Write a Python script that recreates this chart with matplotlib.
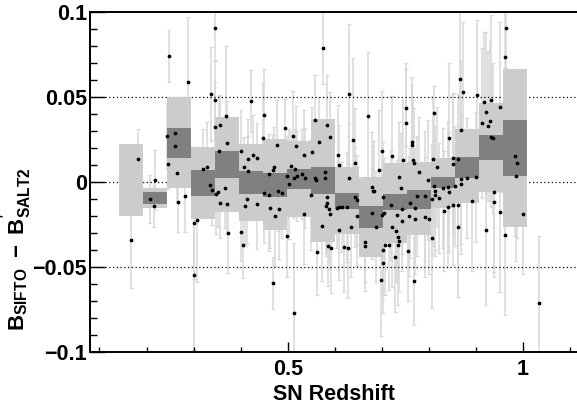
import matplotlib
matplotlib.use("Agg")
import matplotlib.pyplot as plt
from matplotlib.ticker import FixedLocator, MultipleLocator

plt.rcParams['font.family'] = ['Liberation Sans', 'DejaVu Sans']
plt.rcParams['font.weight'] = 'bold'
plt.rcParams['mathtext.fontset'] = 'custom'
plt.rcParams['mathtext.rm'] = 'Liberation Sans:bold'
plt.rcParams['mathtext.it'] = 'Liberation Sans:bold'
plt.rcParams['mathtext.bf'] = 'Liberation Sans:bold'

# --- per-supernova differences -------------------------------------------
redshift = [
    0.166, 0.182, 0.208, 0.217, 0.2165, 0.2435, 0.245, 0.2478, 0.2605, 0.2605,
    0.2658, 0.2675, 0.2824, 0.2888, 0.3003, 0.3003, 0.3079, 0.3207, 0.3292, 0.3355,
    0.3364, 0.3385, 0.3462, 0.3449, 0.3462, 0.3477, 0.3525, 0.3555, 0.3534, 0.3555,
    0.3674, 0.3689, 0.3704, 0.3710, 0.3732, 0.4008, 0.4018, 0.4050, 0.4065, 0.4099,
    0.4135, 0.4167, 0.4157, 0.4227, 0.4256, 0.4348, 0.4358, 0.4475, 0.4490, 0.4497,
    0.4597, 0.4597, 0.4618, 0.4694, 0.4694, 0.4709, 0.4730, 0.4779, 0.4794, 0.4811,
    0.4885, 0.4949, 0.4979, 0.4979, 0.5032, 0.5077, 0.5119, 0.5128, 0.5140, 0.5155,
    0.5183, 0.5204, 0.5310, 0.5336, 0.5353, 0.5368, 0.5495, 0.5506, 0.5587, 0.5587,
    0.5591, 0.5633, 0.5655, 0.5733, 0.5750, 0.5793, 0.5797, 0.5814, 0.5829, 0.5842,
    0.5842, 0.5846, 0.5888, 0.5899, 0.5905, 0.5920, 0.6041, 0.6073, 0.6084, 0.6097,
    0.6097, 0.6160, 0.6201, 0.6256, 0.6275, 0.6296, 0.6309, 0.6339, 0.6394, 0.6430,
    0.6424, 0.6473, 0.6477, 0.6639, 0.6639, 0.6702, 0.6798, 0.6819, 0.6841, 0.6798,
    0.6870, 0.6951, 0.6983, 0.7000, 0.7015, 0.7030, 0.7025, 0.7004, 0.7040, 0.7074,
    0.7159, 0.7189, 0.7210, 0.7223, 0.7274, 0.7295, 0.7329, 0.7338, 0.7351, 0.7365,
    0.7376, 0.7408, 0.7433, 0.7429, 0.7457, 0.7504, 0.7514, 0.7561, 0.7578, 0.7605,
    0.7635, 0.7642, 0.7663, 0.7688, 0.7688, 0.7699, 0.7705, 0.7754, 0.7790, 0.7911,
    0.7918, 0.7988, 0.8009, 0.8060, 0.8067, 0.8088, 0.8103, 0.8109, 0.8124, 0.8137,
    0.8179, 0.8222, 0.8307, 0.8315, 0.8407, 0.8413, 0.8428, 0.8434, 0.8507, 0.8513,
    0.8513, 0.8562, 0.8613, 0.8613, 0.8613, 0.8661, 0.8689, 0.8676, 0.8683, 0.8715,
    0.8817, 0.8923, 0.9008, 0.9029, 0.9122, 0.9165, 0.9220, 0.9220, 0.9256, 0.9292,
    0.9314, 0.9327, 0.9356, 0.9378, 0.9378, 0.9518, 0.9518, 0.9618, 0.9618, 0.9633,
    0.9836, 0.9873, 0.9851, 1.0000, 1.0334,
]
delta_b = [
    -0.0343, 0.0138, -0.0100, 0.0010, -0.0143, 0.0271, 0.0103, 0.0741, 0.0288, 0.0214,
    0.0054, -0.0119, -0.0082, 0.0586, -0.0244, -0.0549, -0.0226, 0.0078, 0.0088, -0.0019,
    0.0519, -0.0045, 0.0904, 0.0484, 0.0325, -0.0069, -0.0061, 0.0336, 0.0184, -0.0122,
    -0.0034, 0.0386, -0.0129, 0.0228, -0.0302, 0.0184, -0.0292, -0.0372, 0.0088, -0.0139,
    -0.0102, 0.0063, 0.0137, 0.0475, 0.0157, 0.0141, -0.0128, 0.0259, -0.0063, 0.0396,
    -0.0079, 0.0047, -0.0151, 0.0072, -0.0592, 0.0090, -0.0198, 0.0219, -0.0055, -0.0159,
    -0.0065, 0.0318, 0.0034, -0.0316, -0.0012, 0.0096, 0.0271, 0.0022, -0.0772, 0.0078,
    0.0212, 0.0035, 0.0049, -0.0186, 0.0157, 0.0022, -0.0075, 0.0174, 0.0363, 0.0026,
    0.0009, -0.0410, 0.0236, -0.0258, 0.0790, 0.0056, 0.0024, -0.0144, -0.0091, 0.0338,
    -0.0124, -0.0374, -0.0156, 0.0266, -0.0186, -0.0386, -0.0155, 0.0157, -0.0147, 0.0099,
    -0.0281, -0.0146, -0.0384, -0.0146, -0.0391, 0.0515, 0.0026, -0.0265, 0.0249, 0.0112,
    -0.0086, -0.0104, -0.0198, -0.0351, -0.0375, 0.0390, -0.0028, -0.0053, -0.0053, -0.0185,
    -0.0262, 0.0072, -0.0576, 0.0181, -0.0476, -0.0399, -0.0090, -0.0197, -0.0185, -0.0369,
    -0.0368, -0.0135, -0.0265, 0.0152, -0.0442, -0.0288, -0.0193, -0.0372, -0.0325, 0.0028,
    -0.0349, -0.0037, -0.0232, -0.0159, 0.0129, 0.0347, 0.0438, -0.0404, -0.0202, -0.0124,
    0.0234, 0.0218, 0.0132, 0.0109, -0.0581, -0.0153, -0.0218, -0.0082, 0.0057, -0.0204,
    -0.0084, 0.0010, -0.0219, -0.0332, -0.0100, 0.0134, -0.0024, 0.0408, -0.0075, -0.0053,
    0.0086, -0.0092, -0.0035, -0.0169, -0.0029, -0.0149, 0.0259, -0.0061, -0.0135, 0.0139,
    0.0104, -0.0024, 0.0137, -0.0135, -0.0266, 0.0606, 0.0306, 0.0015, -0.0013, 0.0532,
    0.0025, -0.0110, 0.0029, 0.0514, 0.0345, 0.0471, 0.0409, -0.0284, 0.0328, 0.0357,
    0.0265, 0.0482, 0.0261, -0.0061, -0.0118, 0.0441, -0.0178, -0.0310, 0.0735, 0.0908,
    0.0155, 0.0114, 0.0034, -0.0188, -0.0714,
]
delta_b_err = [
    0.0282, 0.0171, 0.0141, 0.0176, 0.0124, 0.0194, 0.0147, 0.0153, 0.0165, 0.0176,
    0.0176, 0.0176, 0.0212, 0.0382, 0.0324, 0.0441, 0.0365, 0.0235, 0.0265, 0.0176,
    0.0276, 0.0206, 0.0188, 0.0229, 0.0265, 0.0235, 0.0206, 0.0176, 0.0324, 0.0206,
    0.0235, 0.0412, 0.0176, 0.0247, 0.0235, 0.0241, 0.0171, 0.0194, 0.0176, 0.0235,
    0.0265, 0.0206, 0.0235, 0.0182, 0.0235, 0.0206, 0.0265, 0.0324, 0.0294, 0.0271,
    0.0324, 0.0235, 0.0235, 0.0206, 0.0153, 0.0235, 0.0294, 0.0265, 0.0235, 0.0294,
    0.0265, 0.0171, 0.0235, 0.0241, 0.0324, 0.0206, 0.0265, 0.0235, 0.0412, 0.0235,
    0.0235, 0.0265, 0.0265, 0.0294, 0.0265, 0.0294, 0.0324, 0.0265, 0.0265, 0.0294,
    0.0294, 0.0253, 0.0265, 0.0324, 0.0212, 0.0294, 0.0265, 0.0294, 0.0324, 0.0294,
    0.0265, 0.0235, 0.0294, 0.0265, 0.0324, 0.0265, 0.0235, 0.0294, 0.0265, 0.0235,
    0.0294, 0.0265, 0.0265, 0.0324, 0.0294, 0.0412, 0.0324, 0.0294, 0.0482, 0.0324,
    0.0294, 0.0265, 0.0294, 0.0235, 0.0265, 0.0376, 0.0324, 0.0265, 0.0294, 0.0265,
    0.0324, 0.0353, 0.0329, 0.0353, 0.0294, 0.0294, 0.0324, 0.0265, 0.0324, 0.0294,
    0.0265, 0.0324, 0.0353, 0.0353, 0.0324, 0.0294, 0.0324, 0.0353, 0.0265, 0.0324,
    0.0294, 0.0324, 0.0294, 0.0265, 0.0353, 0.0353, 0.0229, 0.0294, 0.0353, 0.0324,
    0.0382, 0.0353, 0.0353, 0.0324, 0.0259, 0.0353, 0.0324, 0.0353, 0.0324, 0.0353,
    0.0382, 0.0353, 0.0324, 0.0412, 0.0324, 0.0353, 0.0353, 0.0159, 0.0324, 0.0382,
    0.0353, 0.0324, 0.0353, 0.0353, 0.0382, 0.0353, 0.0441, 0.0353, 0.0353, 0.0382,
    0.0412, 0.0353, 0.0382, 0.0382, 0.0412, 0.0441, 0.0412, 0.0382, 0.0412, 0.0412,
    0.0353, 0.0412, 0.0382, 0.0441, 0.0441, 0.0412, 0.0471, 0.0441, 0.0441, 0.0471,
    0.0412, 0.0500, 0.0441, 0.0471, 0.0441, 0.0500, 0.0471, 0.0471, 0.0441, 0.0235,
    0.0471, 0.0441, 0.0500, 0.0353, 0.0394,
]

# --- binned summary: edges, scatter band and error-on-mean band ----------
bin_edges = [0.142, 0.193, 0.244, 0.295, 0.346, 0.397, 0.448, 0.499, 0.550,
             0.601, 0.652, 0.703, 0.754, 0.805, 0.856, 0.907, 0.958, 1.009]
spread_lo = [-0.0198, -0.0153, -0.0033, -0.0218, -0.0175, -0.0227, -0.0280, -0.0204,
             -0.0351, -0.0308, -0.0439, -0.0357, -0.0312, -0.0150, -0.0125, -0.0057, -0.0263]
spread_hi = [0.0224, -0.0035, 0.0498, 0.0206, 0.0384, 0.0224, 0.0253, 0.0241,
             0.0371, 0.0090, 0.0031, 0.0112, 0.0118, 0.0143, 0.0312, 0.0467, 0.0665]
mean_lo = [None, -0.0129, 0.0143, -0.0080, 0.0025, -0.0069, -0.0086, -0.0039,
           -0.0069, -0.0159, -0.0269, -0.0165, -0.0157, -0.0037, 0.0025, 0.0129, 0.0035]
mean_hi = [None, -0.0059, 0.0318, 0.0071, 0.0182, 0.0065, 0.0051, 0.0076,
           0.0090, -0.0067, -0.0141, -0.0071, -0.0047, 0.0027, 0.0147, 0.0276, 0.0365]

x_major = [0.5, 1.0]
x_major_labels = ['0.5', '1']
y_major = [-0.1, -0.05, 0.0, 0.05, 0.1]
y_major_labels = ['\u22120.1', '\u22120.05', '0', '0.05', '0.1']
ref_levels = [-0.05, 0.0, 0.05]

W, H = 577, 404
fig = plt.figure(figsize=(W / 100, H / 100), dpi=100)
ax = fig.add_axes([90 / W, 52 / H, 487 / W, 340 / H])

# error bars sit underneath the binned bands
ax.errorbar(redshift, delta_b, yerr=delta_b_err, fmt='none', ecolor='#d8d8d8',
            elinewidth=1.1, capsize=1.6, capthick=0.9, zorder=1)

for lev in ref_levels:
    ax.axhline(lev, color='black', lw=0.9, ls=(0, (1, 2)), zorder=1.5)

lefts = bin_edges[:-1]
widths = [b - a for a, b in zip(bin_edges[:-1], bin_edges[1:])]
ax.bar(lefts, [h - l for l, h in zip(spread_lo, spread_hi)], bottom=spread_lo,
       width=widths, align='edge', color='#cccccc', linewidth=0, zorder=2)

m_left = [x for x, l in zip(lefts, mean_lo) if l is not None]
m_w = [w for w, l in zip(widths, mean_lo) if l is not None]
m_lo = [l for l in mean_lo if l is not None]
m_hi = [h for h in mean_hi if h is not None]
ax.bar(m_left, [h - l for l, h in zip(m_lo, m_hi)], bottom=m_lo,
       width=m_w, align='edge', color='#808080', linewidth=0, zorder=3)

ax.plot(redshift, delta_b, 'o', color='black', markersize=2.7, markeredgewidth=0,
        zorder=5)

ax.set_xlim(0.0799, 1.1148)
ax.set_ylim(-0.1, 0.1)

ax.xaxis.set_major_locator(FixedLocator(x_major))
ax.set_xticklabels(x_major_labels)
ax.xaxis.set_minor_locator(MultipleLocator(0.1))
ax.yaxis.set_major_locator(FixedLocator(y_major))
ax.set_yticklabels(y_major_labels)
ax.yaxis.set_minor_locator(MultipleLocator(0.01))

ax.tick_params(axis='x', which='major', direction='in', length=7, width=1.0,
               labelsize=15.5, pad=5)
ax.tick_params(axis='x', which='minor', direction='in', length=3.4, width=1.0)
ax.tick_params(axis='y', which='major', direction='in', length=10.5, width=1.0,
               labelsize=15.5, pad=2)
ax.tick_params(axis='y', which='minor', direction='in', length=5, width=1.0)
for lab in ax.get_xticklabels() + ax.get_yticklabels():
    lab.set_fontweight('bold')

ax.spines['right'].set_visible(False)
for s in ('left', 'bottom', 'top'):
    ax.spines[s].set_linewidth(1.4)

fig.text(334 / W, 1 - 394 / H, 'SN Redshift', ha='center', va='center',
         fontsize=15.5, fontweight='bold')
fig.text(17 / W, 1 - 249 / H,
         r"$\mathregular{B_{SIFTO}\ -\ B^{'}_{SALT2}}$",
         ha='center', va='center', rotation=90, fontsize=16, fontweight='bold')

fig.savefig('out.png', dpi=100)
